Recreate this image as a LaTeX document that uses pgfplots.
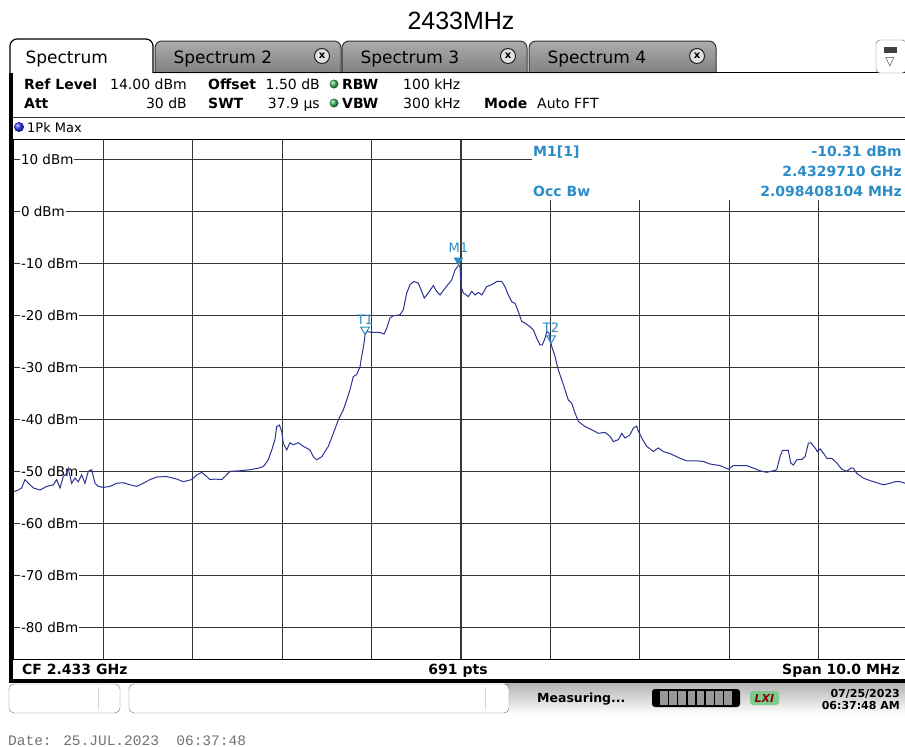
\documentclass[border=0pt]{standalone}
\usepackage{fontspec}
\setmainfont{DejaVu Sans}
\newfontfamily\arial{Liberation Sans}
\newfontfamily\mono{Liberation Mono}
\usepackage{pgfplots}
\pgfplotsset{compat=1.18}

\definecolor{trace}{RGB}{44,52,150}
\definecolor{mkr}{RGB}{44,140,200}
\definecolor{gridc}{RGB}{55,55,55}
\definecolor{tabA}{RGB}{172,172,172}
\definecolor{tabB}{RGB}{128,128,128}
\definecolor{led}{RGB}{70,180,95}
\definecolor{dateg}{RGB}{115,115,115}
\newcommand\fs[1]{\fontsize{#1}{#1}\selectfont}

\begin{document}
\begin{tikzpicture}
\path[use as bounding box] (0,0) rectangle (905pt,-747pt);

% ---- screen furniture (pixel coordinates, y downwards)
\begin{scope}[x=1pt,y=-1pt]
  \fill[white] (0,0) rectangle (905,747);
  \node[font=\arial\fs{25}, anchor=base] at (461,29) {2433MHz};

  % inactive tabs
  \foreach \xa/\xb/\n in {155/341/2, 342/527/3, 529/716/4}{
    \draw[black!80, line width=1pt, top color=tabA, bottom color=tabB, rounded corners=7pt]
      (\xa,73) -- (\xa,41) -- (\xb,41) -- (\xb,73);
    \node[font=\fs{17}, anchor=base west] at (\xa+15,63) {Spectrum \n};
    \draw[black!85, line width=1pt, fill=black!12] (\xb-19,56) circle (7.5);
    \node[font=\bfseries\fs{10}] at (\xb-19,56) {x};
  }
  \draw[black, line width=1.5pt] (153,72.5) -- (905,72.5);
  % active tab
  \filldraw[fill=white, draw=black, line width=1.2pt, rounded corners=7pt]
    (10,75) -- (10,39) -- (153,39) -- (153,73);
  \node[font=\fs{17}, anchor=base west] at (22,63) {Spectrum};
  % right icon
  \filldraw[fill=white, draw=black!60, rounded corners=4pt] (876,40) rectangle (906,73);
  \fill[black!75] (884,47) rectangle (897,53);
  \node[font=\fs{12}, black!70] at (890,62) {▽};

  % body frame
  \draw[black, line width=3.5pt] (11,73) -- (11,681) -- (906,681);
  \draw[black!80, line width=1pt] (12,117.5) -- (905,117.5);

  % header rows
  \begin{scope}[every node/.style={font=\fs{14}, inner sep=0pt}]
    \node[anchor=base west, font=\bfseries\fs{14}] at (24,89) {Ref Level};
    \node[anchor=base east] at (187,89) {14.00 dBm};
    \node[anchor=base west, font=\bfseries\fs{14}] at (208,89) {Offset};
    \node[anchor=base east] at (320,89) {1.50 dB};
    \node[anchor=base west, font=\bfseries\fs{14}] at (342,89) {RBW};
    \node[anchor=base west] at (403,89) {100 kHz};
    \node[anchor=base west, font=\bfseries\fs{14}] at (24,108) {Att};
    \node[anchor=base east] at (187,108) {30 dB};
    \node[anchor=base west, font=\bfseries\fs{14}] at (208,108) {SWT};
    \node[anchor=base east] at (320,108) {37.9 µs};
    \node[anchor=base west, font=\bfseries\fs{14}] at (342,108) {VBW};
    \node[anchor=base west] at (403,108) {300 kHz};
    \node[anchor=base west, font=\bfseries\fs{14}] at (484,108) {Mode};
    \node[anchor=base west] at (537,108) {Auto FFT};
    \node[anchor=base west, font=\fs{13}] at (27,132) {1Pk Max};
  \end{scope}
  \shade[ball color=led] (334,84) circle (4.5);
  \shade[ball color=led] (334,103) circle (4.5);
  \shade[ball color=blue!80] (19,127) circle (5);

  % bottom info bar
  \begin{scope}[every node/.style={font=\bfseries\fs{14}, inner sep=0pt}]
    \node[anchor=base west] at (22,674) {CF 2.433 GHz};
    \node[anchor=base] at (458,674) {691 pts};
    \node[anchor=base east] at (900,674) {Span 10.0 MHz};
  \end{scope}

  % status bar
  \shade[top color=black!30, bottom color=white] (505,683) rectangle (905,714);
  \filldraw[fill=white, draw=black!55, rounded corners=5pt] (9,684) rectangle (120,713);
  \draw[black!15] (98,687) -- (98,710);
  \filldraw[fill=white, draw=black!55, rounded corners=5pt] (129,684) rectangle (509,713);
  \draw[black!15] (485,687) -- (485,710);
  \node[font=\bfseries\fs{12.5}, anchor=base west, inner sep=0pt] at (537,702) {Measuring...};
  \fill[black, rounded corners=3pt] (652,689) rectangle (740,707);
  \foreach \i in {0,...,7}{
    \fill[black!40] (660+\i*9.2,691) rectangle (667.5+\i*9.2,705);
  }
  \fill[led!70, rounded corners=3pt] (750,691) rectangle (779,705);
  \node[font=\bfseries\itshape\fs{11}, red!55!black] at (764.5,698) {LXI};
  \node[font=\bfseries\fs{11}, anchor=base east, inner sep=0pt] at (900,697) {07/25/2023};
  \node[font=\bfseries\fs{11}, anchor=base east, inner sep=0pt] at (900,709) {06:37:48 AM};

  \node[font=\mono\fs{14.5}, dateg, anchor=base west, inner sep=0pt] at (8,745) {Date: 25.JUL.2023\ \ 06:37:48};
\end{scope}

% ---- trace area
\begin{axis}[
    at={(14pt,-139pt)}, anchor=north west,
    scale only axis, width=891pt, height=520pt,
    xmin=-5, xmax=4.966, ymin=-86, ymax=14,
    xtick={-4,-3,...,4}, ytick={-80,-70,...,10},
    xticklabels={}, yticklabels={},
    tick style={draw=none},
    grid=major,
    major grid style={gridc, line width=1.2pt},
    axis line style={black, line width=1pt},
    clip=false,
]
  \pgfplotsinvokeforeach{10,0,-10,-20,-30,-40,-50,-60,-70,-80}{
    \node[fill=white, inner sep=1pt, anchor=west, font=\fs{13.5}] at (axis cs:-4.935,#1) {#1 dBm};
  }

  \addplot[trace, line width=1pt] coordinates {
    (-5.000,-53.8) (-4.952,-53.5) (-4.914,-53.1) (-4.877,-51.5) (-4.840,-52.2)
    (-4.784,-53.1) (-4.709,-53.5) (-4.634,-52.8) (-4.560,-52.5) (-4.522,-51.5)
    (-4.485,-53.1) (-4.449,-50.9) (-4.411,-50.3) (-4.393,-49.3) (-4.355,-52.2)
    (-4.318,-51.2) (-4.281,-51.9) (-4.243,-50.6) (-4.206,-52.2) (-4.169,-49.9)
    (-4.131,-49.6) (-4.094,-52.2) (-4.057,-52.8) (-4.001,-53.0) (-3.926,-52.8)
    (-3.851,-52.2) (-3.777,-52.1) (-3.702,-52.5) (-3.628,-52.8) (-3.554,-52.2)
    (-3.479,-51.5) (-3.404,-51.0) (-3.292,-50.9) (-3.180,-51.4) (-3.106,-51.9)
    (-3.012,-51.5) (-2.956,-50.6) (-2.900,-50.1) (-2.845,-50.9) (-2.808,-51.5)
    (-2.752,-51.4) (-2.677,-51.5) (-2.640,-50.9) (-2.584,-49.9) (-2.472,-49.8)
    (-2.360,-49.6) (-2.267,-49.3) (-2.211,-49.0) (-2.156,-47.7) (-2.117,-45.8)
    (-2.081,-43.8) (-2.062,-41.3) (-2.032,-41.0) (-2.006,-42.2) (-1.988,-44.5)
    (-1.950,-45.8) (-1.913,-44.4) (-1.876,-44.8) (-1.820,-44.4) (-1.764,-45.1)
    (-1.689,-45.8) (-1.652,-47.1) (-1.614,-47.7) (-1.558,-47.1) (-1.484,-45.1)
    (-1.428,-42.6) (-1.372,-40.0) (-1.317,-38.1) (-1.279,-36.2) (-1.242,-34.2)
    (-1.205,-31.7) (-1.167,-31.3) (-1.130,-29.8) (-1.111,-27.8) (-1.085,-25.3)
    (-1.074,-23.7) (-1.055,-23.0) (-0.999,-23.2) (-0.906,-23.2) (-0.861,-23.5)
    (-0.831,-22.4) (-0.794,-20.4) (-0.757,-20.0) (-0.682,-19.8) (-0.645,-18.8)
    (-0.607,-15.6) (-0.570,-14.0) (-0.526,-13.4) (-0.478,-13.7) (-0.440,-15.3)
    (-0.411,-16.6) (-0.366,-15.6) (-0.310,-14.2) (-0.272,-15.3) (-0.235,-16.0)
    (-0.179,-14.7) (-0.104,-13.1) (-0.067,-11.2) (-0.029,-10.31) (-0.011,-10.5)
    (0.000,-14.4) (0.026,-15.6) (0.082,-16.3) (0.120,-15.3) (0.157,-16.0)
    (0.194,-15.5) (0.232,-16.0) (0.287,-14.4) (0.343,-14.0) (0.399,-13.4)
    (0.455,-13.4) (0.492,-14.4) (0.529,-16.0) (0.567,-17.3) (0.604,-17.6)
    (0.641,-19.2) (0.679,-21.1) (0.716,-21.4) (0.772,-22.1) (0.809,-22.7)
    (0.847,-24.3) (0.884,-25.6) (0.909,-25.6) (0.940,-24.3) (0.959,-23.0)
    (0.984,-23.3) (0.996,-24.6) (1.015,-25.9) (1.051,-27.8) (1.088,-30.4)
    (1.126,-32.3) (1.163,-34.2) (1.200,-36.2) (1.238,-36.8) (1.275,-38.7)
    (1.312,-40.3) (1.387,-41.3) (1.462,-41.9) (1.536,-42.6) (1.611,-42.4)
    (1.667,-43.2) (1.704,-44.2) (1.760,-43.8) (1.798,-42.6) (1.834,-43.5)
    (1.890,-42.9) (1.927,-41.6) (1.965,-41.2) (1.983,-42.2) (2.021,-43.5)
    (2.077,-45.1) (2.151,-46.1) (2.207,-45.4) (2.263,-46.1) (2.338,-46.5)
    (2.450,-47.4) (2.525,-47.9) (2.636,-47.9) (2.710,-48.0) (2.785,-48.5)
    (2.897,-48.8) (2.990,-49.5) (3.046,-48.8) (3.196,-48.8) (3.270,-49.3)
    (3.345,-49.8) (3.419,-50.1) (3.493,-49.8) (3.531,-49.6) (3.568,-47.1)
    (3.594,-45.9) (3.661,-45.9) (3.688,-48.3) (3.717,-48.7) (3.755,-47.7)
    (3.811,-47.6) (3.848,-47.1) (3.885,-44.5) (3.912,-44.4) (3.960,-45.4)
    (3.985,-46.1) (4.016,-45.6) (4.053,-46.4) (4.091,-47.4) (4.147,-47.4)
    (4.203,-48.3) (4.258,-49.5) (4.314,-49.9) (4.359,-49.3) (4.388,-49.3)
    (4.426,-50.3) (4.500,-51.2) (4.575,-51.7) (4.650,-52.1) (4.724,-52.5)
    (4.799,-52.2) (4.855,-51.9) (4.911,-51.9) (4.966,-52.2)
  };

  % markers M1, T1, T2
  \addplot[only marks, mark=triangle*, mark size=5pt, color=mkr,
    mark options={yshift=5pt, rotate=180},
    nodes near coords, point meta=explicit symbolic,
    every node near coord/.style={anchor=south, yshift=7pt, font=\fs{13}, text=mkr, inner sep=1pt}]
    coordinates {(-0.029,-10.31)[M1]};
  \addplot[only marks, mark=triangle, mark size=5pt, color=mkr, line width=1pt,
    mark options={yshift=5pt, rotate=180},
    nodes near coords, point meta=explicit symbolic,
    every node near coord/.style={anchor=south, yshift=4pt, font=\fs{13}, text=mkr, inner sep=1pt}]
    coordinates {(-1.074,-23.6)[T1] (1.007,-25.3)[T2]};
\end{axis}

% ---- marker table over the grid
\begin{scope}[x=1pt,y=-1pt]
  \fill[white] (532,140) rectangle (905,199.5);
  \begin{scope}[every node/.style={font=\bfseries\fs{14}, text=mkr, inner sep=0pt}]
    \node[anchor=base west] at (533,156) {M1[1]};
    \node[anchor=base east] at (902,156) {-10.31 dBm};
    \node[anchor=base east] at (902,176) {2.4329710 GHz};
    \node[anchor=base west] at (533,196) {Occ Bw};
    \node[anchor=base east] at (902,196) {2.098408104 MHz};
  \end{scope}
\end{scope}
\end{tikzpicture}
\end{document}
